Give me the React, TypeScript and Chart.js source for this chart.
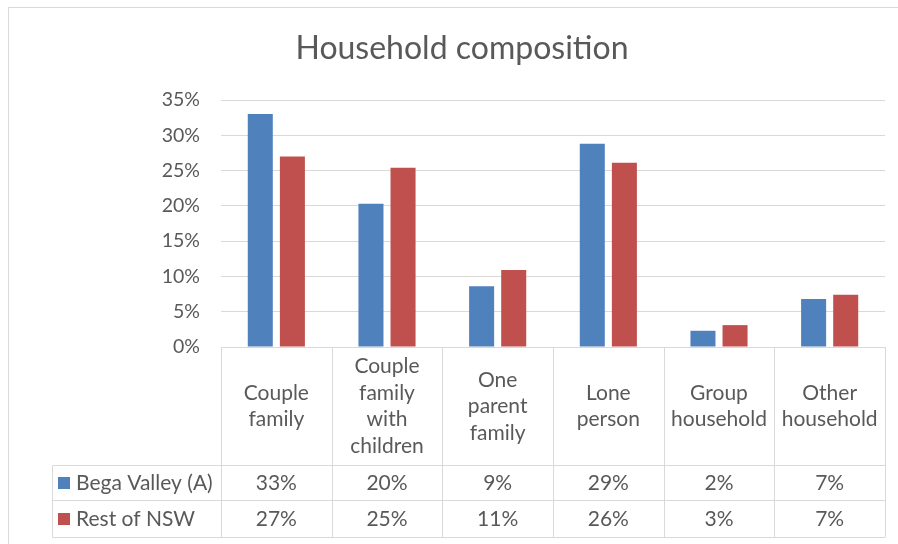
import React, { useEffect, useRef } from "react";
import { Chart, registerables } from "chart.js";

Chart.register(...registerables);

const categories: string[][] = [
  ["Couple", "family"],
  ["Couple", "family", "with", "children"],
  ["One", "parent", "family"],
  ["Lone", "person"],
  ["Group", "household"],
  ["Other", "household"],
];
const begaValley: number[] = [33.0, 20.3, 8.6, 28.8, 2.3, 6.8];
const restOfNSW: number[] = [27.0, 25.4, 10.9, 26.1, 3.1, 7.4];
const seriesNames: string[] = ["Bega Valley (A)", "Rest of NSW"];
const seriesColors: string[] = ["#4f81bd", "#c0504d"];
const title = "Household composition";

const FONT = "Lato, 'Noto Sans', sans-serif";
const TEXT = "#595959";
const GRID = "#d9d9d9";

const tablePlugin = {
  id: "excelTable",
  afterDraw(chart: any) {
    const ctx = chart.ctx as CanvasRenderingContext2D;
    const area = chart.chartArea;
    const x = chart.scales.x;
    const n = chart.data.labels.length;
    const left = area.left;
    const right = area.right;
    const top = area.bottom;
    const catW = (right - left) / n;
    const labelBottom = 465.5;
    const row1Bottom = 500.5;
    const tableBottom = 537.5;
    const tableLeft = 52.5;

    ctx.save();
    // outer chart border
    ctx.strokeStyle = GRID;
    ctx.lineWidth = 1;
    ctx.strokeRect(8.5, 7.5, 1000, 1000);

    ctx.strokeStyle = GRID;
    ctx.beginPath();
    for (let i = 0; i <= n; i++) {
      const px = Math.round(left + i * catW) + 0.5;
      ctx.moveTo(px, top);
      ctx.lineTo(px, tableBottom);
    }
    ctx.moveTo(tableLeft, labelBottom);
    ctx.lineTo(tableLeft, tableBottom);
    ctx.moveTo(tableLeft, labelBottom);
    ctx.lineTo(right, labelBottom);
    ctx.moveTo(tableLeft, row1Bottom);
    ctx.lineTo(right, row1Bottom);
    ctx.moveTo(tableLeft, tableBottom);
    ctx.lineTo(right, tableBottom);
    ctx.stroke();

    // category labels
    ctx.fillStyle = TEXT;
    ctx.font = `21px ${FONT}`;
    ctx.textAlign = "center";
    ctx.textBaseline = "middle";
    const midY = (top + labelBottom) / 2;
    chart.data.labels.forEach((lab: string[], i: number) => {
      const cx = x.getPixelForValue(i);
      lab.forEach((line: string, j: number) => {
        ctx.fillText(line, cx, midY + (j - (lab.length - 1) / 2) * 26.5);
      });
    });

    // data rows
    const rowsY = [(labelBottom + row1Bottom) / 2, (row1Bottom + tableBottom) / 2];
    chart.data.datasets.forEach((ds: any, r: number) => {
      const y = rowsY[r];
      ctx.fillStyle = ds.backgroundColor;
      ctx.fillRect(58, y - 6, 12, 12);
      ctx.fillStyle = TEXT;
      ctx.textAlign = "left";
      ctx.fillText(ds.label, 76, y);
      ctx.textAlign = "center";
      ds.data.forEach((v: number, i: number) => {
        ctx.fillText(`${Math.round(v)}%`, x.getPixelForValue(i), y);
      });
    });
    ctx.restore();
  },
};

export default function App() {
  const ref = useRef<HTMLCanvasElement>(null);
  useEffect(() => {
    document.body.style.margin = "0";
    const chart = new Chart(ref.current!, {
      type: "bar",
      data: {
        labels: categories as any,
        datasets: [
          { label: seriesNames[0], data: begaValley, backgroundColor: seriesColors[0] },
          { label: seriesNames[1], data: restOfNSW, backgroundColor: seriesColors[1] },
        ],
      },
      options: {
        responsive: false,
        animation: false,
        layout: { padding: { left: 39, right: 13, top: 0, bottom: 197 } },
        datasets: { bar: { categoryPercentage: 0.58, barPercentage: 0.78 } } as any,
        plugins: {
          legend: { display: false },
          tooltip: { enabled: false },
          title: {
            display: true,
            text: title,
            color: TEXT,
            font: { family: FONT, size: 32, weight: "normal" as any, lineHeight: 1.2 },
            padding: { top: 29, bottom: 32.6 },
          },
        },
        scales: {
          x: { display: false },
          y: {
            min: 0,
            max: 35,
            afterFit: (s: any) => {
              s.width = 182;
            },
            border: { display: false },
            grid: { color: GRID, drawTicks: false },
            ticks: {
              stepSize: 5,
              padding: 21,
              color: TEXT,
              font: { family: FONT, size: 19.5 },
              callback: (v: any) => `${v}%`,
            },
          },
        },
      },
      plugins: [tablePlugin],
    });
    return () => chart.destroy();
  }, []);
  return <canvas ref={ref} width={898} height={544} style={{ display: "block", width: 898, height: 544 }} />;
}
